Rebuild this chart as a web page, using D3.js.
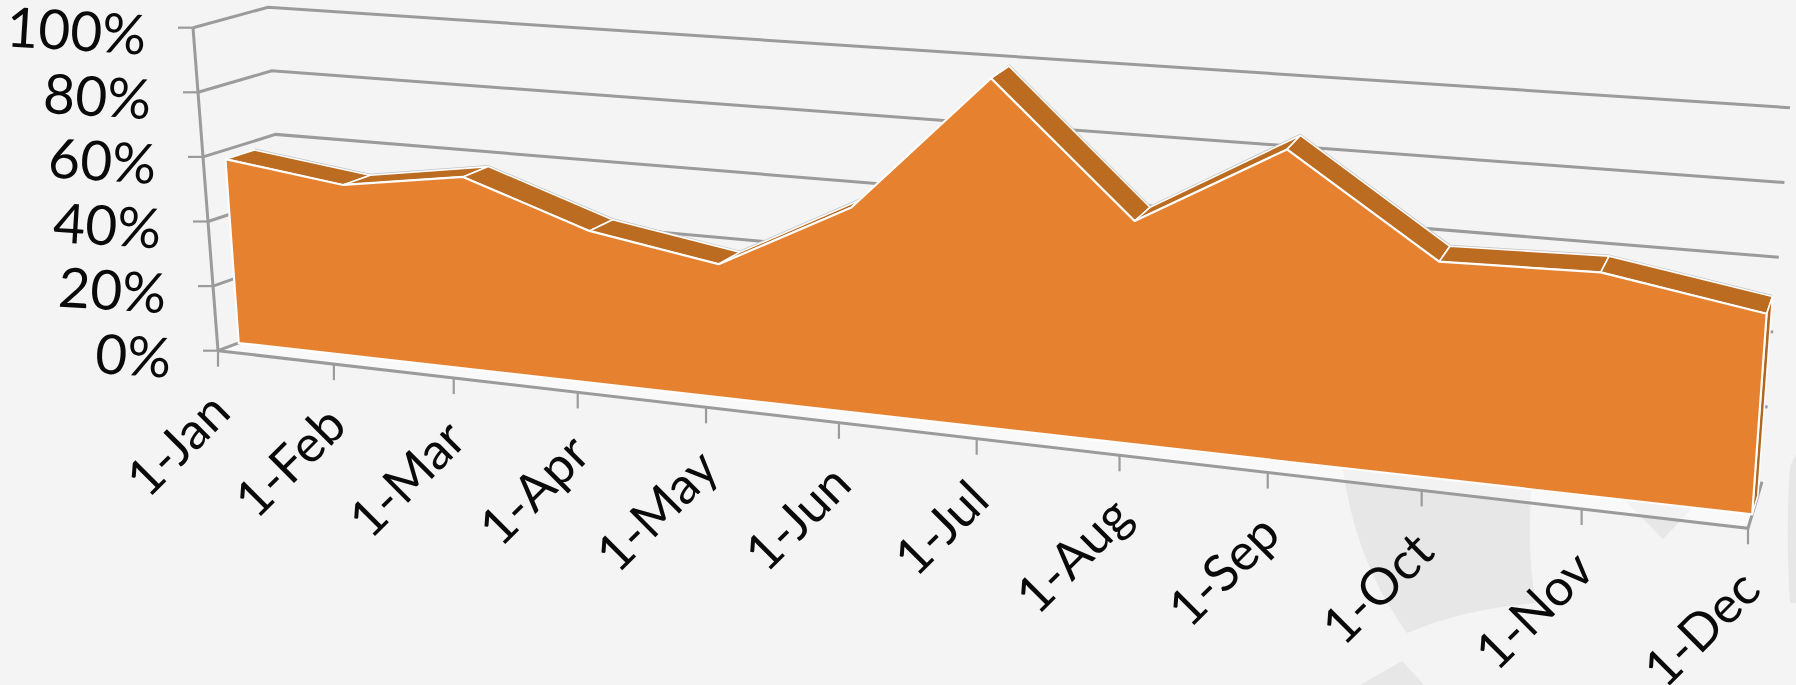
<!DOCTYPE html>
<html><head><meta charset="utf-8">
<script src="https://cdnjs.cloudflare.com/ajax/libs/d3/7.8.5/d3.min.js"></script>
<style>html,body{margin:0;padding:0;background:#f4f4f4;overflow:hidden}svg{display:block}
text{font-family:Lato,"Open Sans",sans-serif;font-weight:400;fill:#0a0a0a}</style></head>
<body><svg id="c" width="1796" height="685"></svg>
<script>
// data
const months = ["1-Jan","1-Feb","1-Mar","1-Apr","1-May","1-Jun","1-Jul","1-Aug","1-Sep","1-Oct","1-Nov","1-Dec"];
const shares = [57.2,52.5,58.3,45.5,39.3,59.5,100,62.8,86.3,59,60,53];
const yTicks = [0,20,40,60,80,100];

const W = 1796, H = 685;
const svg = d3.select("#c");

// projection of the 3D box: screen positions of its 8 corners [depth][month side][value side]
const box = {
  front:{lo:{l:[218,350.7],r:[1748,528.3]},hi:{l:[193,27.7],r:[1775,148]}},
  back :{lo:{l:[287,325],r:[1762,481.7]},hi:{l:[268,7.3],r:[1790,107.7]}}
};
const perspective = 1.22, areaFront = 0.30, areaBack = 0.70;
const xs = d3.scalePoint().domain(months).range([0,1]);
const ys = d3.scaleLinear().domain([0,100]).range([0,1]);
const depth = s => s/(s+perspective*(1-s));
const mix = (a,b,t)=>[a[0]+(b[0]-a[0])*t,a[1]+(b[1]-a[1])*t];
function proj(month,value,w){
  const t = depth(xs(month)), v = ys(value);
  const onPlane = p => mix(mix(p.lo.l,p.lo.r,t),mix(p.hi.l,p.hi.r,t),v);
  return mix(onPlane(box.front),onPlane(box.back),w);
}
const first = months[0], last = months[months.length-1];
const line = d3.line();
const closed = pts => line(pts)+"Z";

// faint background emblem
const bgShapes = [
 "M1340,440 C1345,510 1365,575 1407,633 C1450,615 1490,607 1536,603 C1528,560 1528,520 1535,440 Z",
 "M1610,485 L1663,539 L1700,500 Z",
 "M1796,455 L1790,466 C1787,510 1787,560 1790,603 L1796,603 Z",
 "M1402,661 L1360,685 L1424,685 Z"
];
svg.append("g").selectAll("path").data(bgShapes).join("path").attr("d",d=>d).attr("fill","#e7e7e7");

// floor
svg.append("path").attr("d",closed([proj(first,0,0),proj(last,0,0),proj(last,0,1),proj(first,0,1)]))
  .attr("fill","#ffffff").attr("fill-opacity",0.45);

// grid: back wall and left wall
const gridC = "#9b9b9b";
const grid = svg.append("g").attr("fill","none").attr("stroke",gridC).attr("stroke-width",3);
grid.selectAll("path.g").data(yTicks.filter(d=>d>0)).join("path").attr("class","g")
  .attr("d",d=>line([proj(first,d,0),proj(first,d,1),proj(last,d,1)]));
// floor edges
grid.append("path").attr("d",line([proj(first,0,0.33),proj(first,0,0),proj(last,0,0),proj(last,0,1)]));
// value axis + ticks
grid.append("path").attr("d",line([proj(first,100,0),proj(first,0,0)]));
grid.selectAll("path.yt").data(yTicks).join("path").attr("class","yt").attr("stroke-width",2.2)
  .attr("d",d=>{const p=proj(first,d,0);return line([[p[0],p[1]],[p[0]-15,p[1]]]);});
grid.selectAll("path.xt").data(months).join("path").attr("class","xt").attr("stroke-width",2.2)
  .attr("d",d=>{const p=proj(d,0,0);return line([[p[0],p[1]],[p[0],p[1]+16]]);});

// area: top facets, end facet, front face
const rows = months.map((m,i)=>({m,v:shares[i]}));
const area = svg.append("g").attr("stroke-linejoin","round");
const facets = d3.pairs(rows).map(([a,b])=>[proj(a.m,a.v,areaFront),proj(b.m,b.v,areaFront),proj(b.m,b.v,areaBack),proj(a.m,a.v,areaBack)]);
const backEdge = rows.map(r=>proj(r.m,r.v,areaBack));
area.append("path").attr("d",line(backEdge)).attr("fill","none").attr("stroke","#c4c4c4").attr("stroke-width",3);
area.selectAll("path.top").data(facets).join("path").attr("class","top")
  .attr("d",closed).attr("fill","#bb6c20").attr("stroke","#fdfdfd").attr("stroke-width",1.6);
const lastRow = rows[rows.length-1];
area.append("path").attr("d",closed([proj(last,0,areaFront),proj(last,lastRow.v,areaFront),proj(last,lastRow.v,areaBack),proj(last,0,areaBack)]))
  .attr("fill","#b0661c").attr("stroke","#fdfdfd").attr("stroke-width",1.6);
const frontPts = [proj(first,0,areaFront),...rows.map(r=>proj(r.m,r.v,areaFront)),proj(last,0,areaFront)];
area.append("path").attr("d",closed(frontPts)).attr("fill","#e5812f").attr("stroke","#fdfdfd").attr("stroke-width",2.2);

// labels
svg.append("g").selectAll("text").data(yTicks).join("text")
  .attr("text-anchor","end").attr("font-size",55)
  .attr("transform",d=>{const p=proj(first,d,0);return `translate(${p[0]-48},${p[1]+27}) rotate(3.5)`;})
  .text(d=>d+"%");
svg.append("g").selectAll("text").data(months).join("text")
  .attr("text-anchor","end").attr("font-size",51)
  .attr("transform",d=>{const p=proj(d,0,0);return `translate(${p[0]+15},${p[1]+64}) rotate(-45)`;})
  .text(d=>d);
</script></body></html>
